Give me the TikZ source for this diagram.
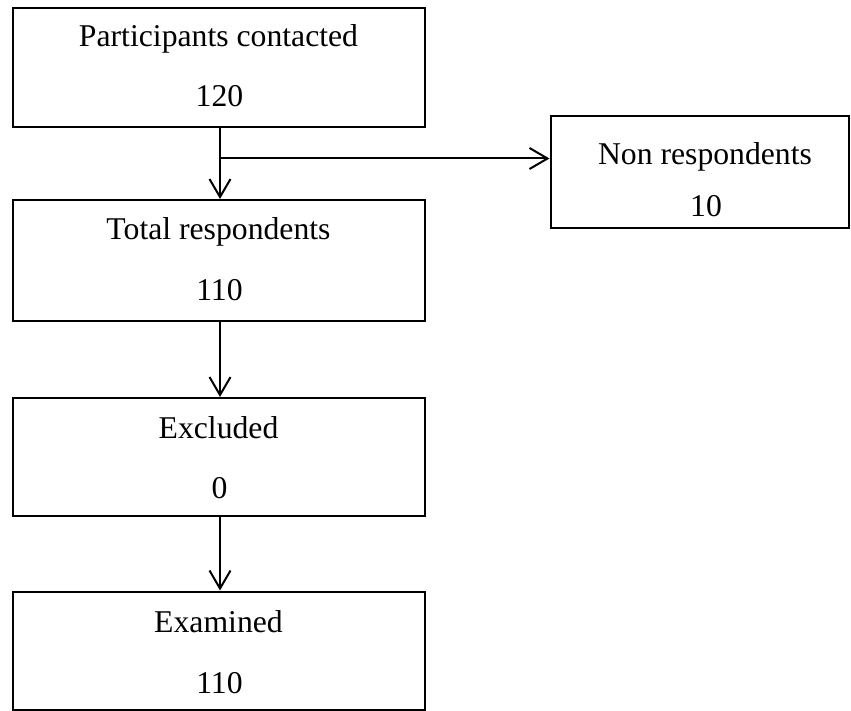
\documentclass[tikz,border=0pt]{standalone}
\usepackage{fontspec}
\setmainfont{Liberation Serif}
\usetikzlibrary{arrows.meta}
\begin{document}
\begin{tikzpicture}[x=1pt,y=-1pt,
  box/.style={draw=black,line width=2pt,rectangle,inner sep=0pt},
  lbl/.style={anchor=base,inner sep=0pt,font=\fontsize{31.7}{38}\selectfont},
  arr/.style={line width=2pt,-{Straight Barb[length=18pt,width=21pt,line width=2pt]}}]
\useasboundingbox (0,0) rectangle (851,711);
% boxes
\node[box,minimum width=412pt,minimum height=119pt] (p1) at (219,67.5) {};
\node[box,minimum width=412pt,minimum height=121pt] (tot) at (219,260.5) {};
\node[box,minimum width=412pt,minimum height=118pt] (exc) at (219,457) {};
\node[box,minimum width=412pt,minimum height=118pt] (exa) at (219,650.5) {};
\node[box,minimum width=298pt,minimum height=112pt] (nr) at (699.5,172) {};
% texts
\node[lbl] (t1a) at (218.5,47) {Participants contacted};
\node[lbl] (t1b) at (219.5,107) {120};
\node[lbl] (t2a) at (218.5,240) {Total respondents};
\node[lbl] (t2b) at (219.5,300) {110};
\node[lbl] (t3a) at (218.5,438) {Excluded};
\node[lbl] (t3b) at (219.5,498) {0};
\node[lbl] (t4a) at (218.5,632) {Examined};
\node[lbl] (t4b) at (219.5,693) {110};
\node[lbl] (t5a) at (705,165) {Non respondents};
\node[lbl] (t5b) at (706,217) {10};
% connectors
\coordinate (br) at (220,158.5);
\draw[arr] (p1.south -| br) -- (tot.north -| br);
\draw[arr] (br) -- (br -| nr.west);
\draw[arr] (tot.south -| br) -- (exc.north -| br);
\draw[arr] (exc.south -| br) -- (exa.north -| br);
\end{tikzpicture}
\end{document}
